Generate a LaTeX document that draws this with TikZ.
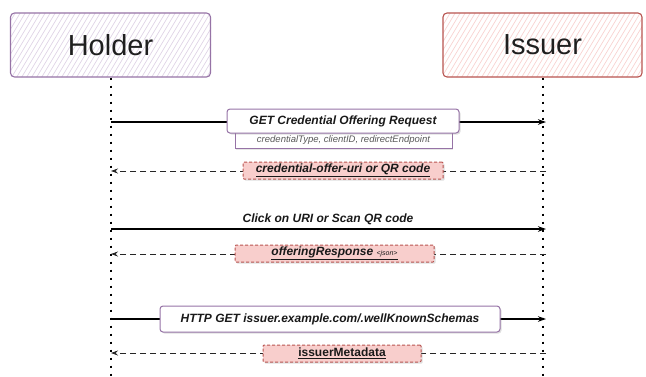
\documentclass[tikz,border=0pt]{standalone}
\usepackage{fontspec}
\setmainfont{Liberation Sans}
\usetikzlibrary{arrows.meta,shadows}
\definecolor{purp}{HTML}{9673A6}
\definecolor{purpl}{HTML}{E1D5E7}
\definecolor{redb}{HTML}{B85450}
\definecolor{redf}{HTML}{F8CECC}
\definecolor{redl}{HTML}{F8D4D3}
\begin{document}
\begin{tikzpicture}[x=1pt,y=-1pt,
  actor/.style={rounded corners=4pt, line width=1.1pt, minimum width=200pt, minimum height=64pt, inner sep=0pt,
    font=\fontsize{29}{33}\selectfont, text=black!88},
  life/.style={line width=2.6pt, dash pattern=on 2.6pt off 5.4pt, black},
  msg/.style={line width=1.2pt, -{Stealth[length=8pt,width=5.5pt]}},
  ret/.style={line width=0.8pt, dash pattern=on 6pt off 4pt, black!85, -{Stealth[length=7pt,width=5pt]}},
  reqbox/.style={draw=purp, fill=white, rounded corners=3pt, line width=1pt, inner sep=0pt,
    font=\fontsize{12}{14}\selectfont\bfseries\itshape, text=black!90,
    drop shadow={opacity=0.25, shadow xshift=1.5pt, shadow yshift=-1.5pt}},
  subbox/.style={draw=purp, fill=white, line width=1pt, inner sep=0pt,
    font=\fontsize{9.5}{11}\selectfont\itshape, text=black!65,
    drop shadow={opacity=0.2, shadow xshift=1pt, shadow yshift=-1pt}},
  respbox/.style={draw=redb, fill=redf, rounded corners=1pt, line width=1pt, dash pattern=on 3pt off 2pt, inner sep=0pt,
    font=\fontsize{12}{14}\selectfont\bfseries, text=black!90,
    drop shadow={opacity=0.25, shadow xshift=1.5pt, shadow yshift=-1.5pt}},
  plain/.style={font=\fontsize{12}{14}\selectfont\bfseries\itshape, text=black!90, inner sep=1pt}
]
\useasboundingbox (0,0) rectangle (646,376);

% hatching of the header boxes
\begin{scope}
  \clip[rounded corners=4pt] (10,13) rectangle (211,77);
  \foreach \k in {-40,-35,...,230} \draw[purpl, line width=0.7pt] (\k,80) -- ++(42,-70);
\end{scope}
\begin{scope}
  \clip[rounded corners=4pt] (443,13) rectangle (642,77);
  \foreach \k in {400,405,...,660} \draw[redl, line width=0.7pt] (\k,80) -- ++(42,-70);
\end{scope}

\node[actor, draw=purp] (holder) at (110.5,45) {Holder};
\node[actor, draw=redb, minimum width=199pt] (issuer) at (542.5,45) {Issuer};

% lifelines
\coordinate (hb) at (111,378);
\coordinate (ib) at (543,378);
\draw[life] (holder.south -| hb) -- (hb);
\draw[life] (issuer.south -| ib) -- (ib);

% message anchors
\foreach \n/\y in {1/122,2/171,3/229,4/254,5/319,6/353}{
  \coordinate (h\n) at (111,\y);
  \coordinate (i\n) at (546,\y);
}

% 1
\draw[msg] (h1) -- (i1);
\node[subbox, minimum width=217pt, minimum height=16pt] (sub1) at (343.5,140.5) {credentialType, clientID, redirectEndpoint};
\node[reqbox, minimum width=232pt, minimum height=24pt] (req1) at (343,121) {GET Credential Offering Request};

% 2
\draw[ret] (i2) -- (h2);
\node[respbox, minimum width=200pt, minimum height=17pt] (resp2) at (343,170.5) {\itshape\underline{credential-offer-uri or QR code}};

% 3
\draw[msg] (h3) -- (i3);
\node[plain, anchor=south] (lab3) at (328,226) {Click on URI or Scan QR code};

% 4
\draw[ret] (i4) -- (h4);
\node[respbox, minimum width=199pt, minimum height=17pt] (resp4) at (334.5,253.5) {\itshape\underline{offeringResponse {\fontsize{7}{8}\selectfont\mdseries <json>}}};

% 5
\draw[msg] (h5) -- (i5);
\node[reqbox, minimum width=340pt, minimum height=26pt] (req5) at (330,319) {HTTP GET issuer.example.com/.wellKnownSchemas};

% 6
\draw[ret] (i6) -- (h6);
\node[respbox, minimum width=158pt, minimum height=17pt] (resp6) at (342,353.5) {\underline{issuerMetadata}};
\end{tikzpicture}
\end{document}
